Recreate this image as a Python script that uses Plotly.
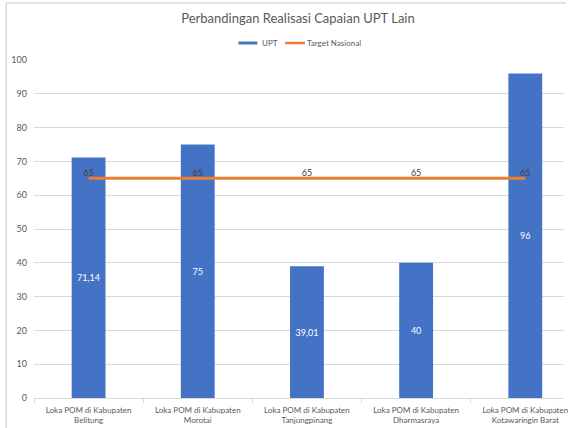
import plotly.graph_objects as go

categories = [
    "Loka POM di Kabupaten<br>Belitung",
    "Loka POM di Kabupaten<br>Morotai",
    "Loka POM di Kabupaten<br>Tanjungpinang",
    "Loka POM di Kabupaten<br>Dharmasraya",
    "Loka POM di Kabupaten<br>Kotawaringin Barat",
]
upt_values = [71.14, 75, 39.01, 40, 96]
upt_labels = ["71,14", "75", "39,01", "40", "96"]
target_values = [65, 65, 65, 65, 65]
target_labels = ["65", "65", "65", "65", "65"]
series_names = ["UPT", "Target Nasional"]
series_colors = ["#4472C4", "#ED7D31"]

W, H = 568, 428
L, R_PIX, T, B = 34, 568, 60, 398  # plot area pixel bounds
pw, ph = R_PIX - L, B - T

def px_x(x):
    return (x - L) / pw

def px_y(y):
    return (B - y) / ph

FONT = "Lato, 'Open Sans', sans-serif"

fig = go.Figure()
fig.add_trace(go.Bar(
    x=categories, y=upt_values, name=series_names[0],
    marker=dict(color=series_colors[0], line=dict(width=0)),
    width=0.31,
    text=upt_labels, textposition="inside", insidetextanchor="middle",
    textangle=0, constraintext="none",
    textfont=dict(color="#ffffff", size=9, family=FONT),
))
fig.add_trace(go.Scatter(
    x=categories, y=target_values, name=series_names[1],
    mode="lines+text", line=dict(color=series_colors[1], width=3),
    text=target_labels, textposition="top center",
    textfont=dict(color="#404040", size=9, family=FONT),
))

# slide border lines (cropped chart frame)
fig.add_shape(type="line", xref="paper", yref="paper",
              x0=px_x(6), x1=px_x(570), y0=px_y(3), y1=px_y(3),
              line=dict(color="#d9d9d9", width=1.5))
fig.add_shape(type="line", xref="paper", yref="paper",
              x0=px_x(6), x1=px_x(6), y0=px_y(3), y1=px_y(430),
              line=dict(color="#d9d9d9", width=1.5))

# manual legend (Excel style)
fig.add_shape(type="rect", xref="paper", yref="paper",
              x0=px_x(240), x1=px_x(259), y0=px_y(41.5), y1=px_y(44.5),
              fillcolor=series_colors[0], line=dict(width=0))
fig.add_annotation(xref="paper", yref="paper", x=px_x(262), y=px_y(43),
                   xanchor="left", yanchor="middle", showarrow=False,
                   text=series_names[0],
                   font=dict(size=8, color="#595959", family=FONT))
fig.add_shape(type="line", xref="paper", yref="paper",
              x0=px_x(287), x1=px_x(307), y0=px_y(43), y1=px_y(43),
              line=dict(color=series_colors[1], width=2.5))
fig.add_annotation(xref="paper", yref="paper", x=px_x(307.5), y=px_y(43),
                   xanchor="left", yanchor="middle", showarrow=False,
                   text=series_names[1],
                   font=dict(size=8, color="#595959", family=FONT))

fig.update_layout(
    width=W, height=H,
    margin=dict(l=L, r=W - R_PIX, t=T, b=H - B, pad=0),
    paper_bgcolor="white", plot_bgcolor="white",
    font=dict(family=FONT, color="#595959"),
    title=dict(text="Perbandingan Realisasi Capaian UPT Lain",
               xref="paper", x=px_x(300), xanchor="center",
               yref="container", y=1 - 18 / H, yanchor="middle",
               font=dict(size=13, color="#595959", family=FONT)),
    bargap=0.69,
    showlegend=False,
)
fig.update_yaxes(range=[0, 100], dtick=10, showgrid=True, gridcolor="#d9d9d9",
                 gridwidth=1, zeroline=False, showline=False,
                 tickfont=dict(size=9, color="#595959", family=FONT),
                 ticklabelstandoff=6)
fig.update_xaxes(range=[-0.5, 4.5 - 16 / 110], showgrid=False, showline=True,
                 linecolor="#d9d9d9", linewidth=1, ticks="outside",
                 tickson="boundaries", ticklen=4, tickcolor="#d9d9d9",
                 ticklabelstandoff=4,
                 tickfont=dict(size=8, color="#595959", family=FONT))

fig.write_html("out.html",
               config={"displayModeBar": False},
               post_script="document.body.style.margin='0';document.body.style.overflow='hidden';")
